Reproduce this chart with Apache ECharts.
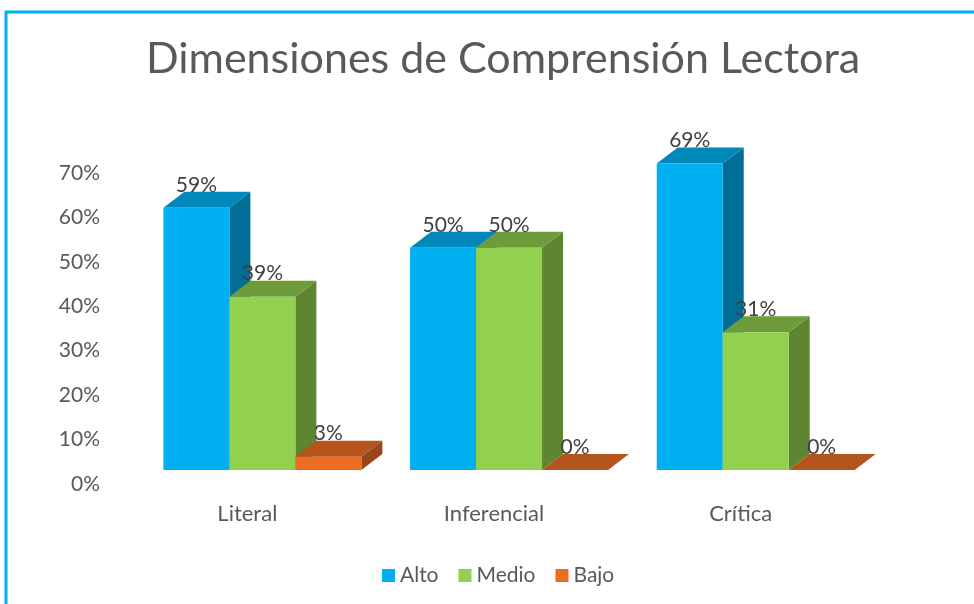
<!DOCTYPE html>
<html>
<head>
<meta charset="utf-8">
<script src="https://cdn.jsdelivr.net/npm/echarts@6/dist/echarts.min.js"></script>
<style>
  html, body { margin: 0; padding: 0; background: #fff; }
  #main { width: 974px; height: 604px; }
</style>
</head>
<body>
<div id="main"></div>
<script>
var categories = ['Literal', 'Inferencial', 'Crítica'];
var seriesNames = ['Alto', 'Medio', 'Bajo'];
var alto = [59, 50, 69];
var medio = [39, 50, 31];
var bajo = [3, 0, 0];
var yTicks = [0, 10, 20, 30, 40, 50, 60, 70];

// front, top, side
var palette = [
  ['#00B0F0', '#0088BA', '#006E96'],
  ['#92D050', '#6E9C3B', '#5E8531'],
  ['#EE6B22', '#B5541D', '#9A4618']
];
var DX = 21, DY = -16;
var FONT = 'Lato, "Open Sans", sans-serif';

function makeRender(sIdx) {
  return function (params, api) {
    var cat = api.value(0);
    var val = api.value(1);
    var base = api.coord([cat, 0]);
    var top = api.coord([cat, val]);
    var bw = api.size([1, 0])[0];
    var w = bw * 0.2675;
    var x0 = base[0] + bw * 0.061 - 1.5 * w + sIdx * w;
    var x1 = x0 + w;
    var yb = base[1], yt = top[1];
    var c = palette[sIdx];
    return {
      type: 'group',
      children: [
        { type: 'polygon', shape: { points: [[x1, yb], [x1 + DX, yb + DY], [x1 + DX, yt + DY], [x1, yt]] },
          style: { fill: c[2] } },
        { type: 'polygon', shape: { points: [[x0, yt], [x0 + DX, yt + DY], [x1 + DX, yt + DY], [x1, yt]] },
          style: { fill: c[1] } },
        { type: 'rect', shape: { x: x0, y: yt, width: w, height: yb - yt },
          style: { fill: c[0] } },
        { type: 'text', x: (x0 + x1) / 2, y: yt - 23,
          style: { text: val + '%', fill: '#404040', font: '21px ' + FONT, align: 'center', verticalAlign: 'middle' } }
      ]
    };
  };
}

var values = [alto, medio, bajo];
var series = values.map(function (arr, i) {
  return {
    name: seriesNames[i],
    type: 'custom',
    renderItem: makeRender(i),
    itemStyle: { color: palette[i][0] },
    encode: { x: 0, y: 1 },
    data: arr.map(function (v, j) { return [j, v]; })
  };
});

var chart = echarts.init(document.getElementById('main'));
chart.setOption({
  animation: false,
  backgroundColor: '#fff',
  graphic: [{
    type: 'rect', shape: { x: 6, y: 12, width: 1100, height: 800 },
    style: { fill: 'none', stroke: '#00B0F0', lineWidth: 3 }, silent: true
  }],
  title: {
    text: 'Dimensiones de Comprensión Lectora',
    left: 498, top: 33, textAlign: 'center',
    textStyle: { fontFamily: FONT, fontSize: 43, fontWeight: 'normal', color: '#595959' }
  },
  legend: {
    data: seriesNames,
    left: 377, top: 560,
    icon: 'rect', itemWidth: 13, itemHeight: 13, itemGap: 20,
    textStyle: { fontFamily: FONT, fontSize: 21, color: '#595959' }
  },
  grid: { left: 124, right: 110, top: 159, bottom: 134 },
  xAxis: {
    type: 'category',
    data: categories,
    axisLine: { show: false }, axisTick: { show: false },
    axisLabel: { margin: 33, fontFamily: FONT, fontSize: 22, color: '#595959' }
  },
  yAxis: {
    type: 'value', min: yTicks[0], max: yTicks[yTicks.length - 1], interval: 10,
    splitLine: { show: false }, axisLine: { show: false }, axisTick: { show: false },
    axisLabel: {
      formatter: '{value}%', margin: 24, verticalAlign: 'top', lineHeight: 28,
      fontFamily: FONT, fontSize: 21, color: '#595959'
    }
  },
  series: series
});
</script>
</body>
</html>
